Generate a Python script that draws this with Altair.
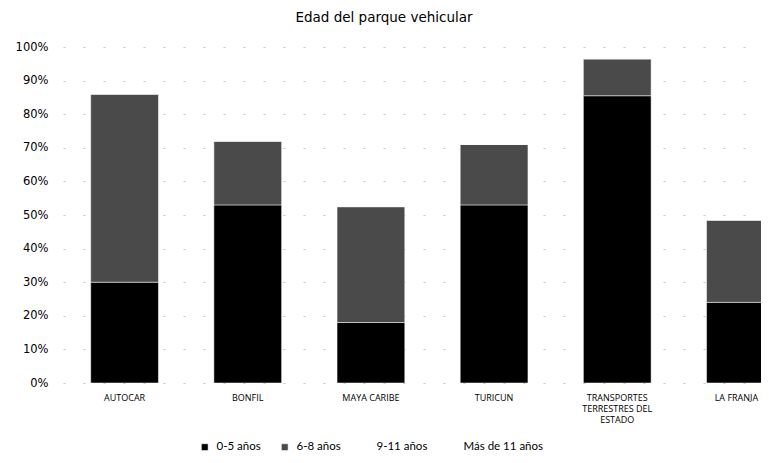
import altair as alt
import pandas as pd

categories = ["AUTOCAR", "BONFIL", "MAYA CARIBE", "TURICUN",
              "TRANSPORTES TERRESTRES DEL ESTADO", "LA FRANJA"]
series = ["0-5 años", "6-8 años", "9-11 años", "Más de 11 años"]
v_0_5 = [30, 53, 18, 53, 85.5, 24]
v_6_8 = [56, 19, 34.5, 18, 11, 24.5]
v_9_11 = [0, 0, 0, 0, 0, 0]
v_11p = [0, 0, 0, 0, 0, 0]
colors = ["#000000", "#4a4a4a", "#ffffff", "#ffffff"]

rows = []
for vals, s_i in zip([v_0_5, v_6_8, v_9_11, v_11p], range(4)):
    for c, v in zip(categories, vals):
        rows.append({"cat": c, "serie": series[s_i], "ord": s_i, "val": v / 100})
df = pd.DataFrame(rows)

label_expr = ("datum.value == 'TRANSPORTES TERRESTRES DEL ESTADO' ? "
              "['TRANSPORTES', 'TERRESTRES DEL', 'ESTADO'] : datum.value")

chart = alt.Chart(df).mark_bar(clip=True).encode(
    x=alt.X("cat:N", sort=categories, title=None,
            scale=alt.Scale(range=[0, 739], paddingInner=0.45, paddingOuter=0.225),
            axis=alt.Axis(labelAngle=0, labelExpr=label_expr, domain=False, ticks=False,
                          labelFont="Open Sans", labelFontSize=9, labelColor="#000",
                          labelPadding=10, labelLineHeight=11, labelBaseline="top",
                          labelLimit=200,
                          labelOffset={"condition": {"test": "datum.value == 'LA FRANJA'",
                                                     "value": -4}, "value": 0})),
    y=alt.Y("val:Q", stack="zero", title=None,
            scale=alt.Scale(domain=[0, 1], nice=False),
            axis=alt.Axis(format=".0%", values=[i / 10 for i in range(11)],
                          domain=False, ticks=False, labelPadding=15,
                          labelFont="DejaVu Sans", labelFontSize=11.5, labelColor="#000",
                          grid=True, gridColor="#c4c4c4", gridDash=[2, 18], gridWidth=1)),
    color=alt.Color("serie:N", sort=series,
                    scale=alt.Scale(domain=series, range=colors),
                    legend=alt.Legend(title=None, orient="none", direction="horizontal",
                                      legendX=136, legendY=394, symbolType="square",
                                      symbolSize=45, symbolStrokeWidth=0,
                                      labelFont="Lato", labelFontSize=11.5, labelColor="#000",
                                      columnPadding=18, labelOffset=6)),
    order=alt.Order("ord:Q"),
).properties(
    width=698, height=336,
    title=alt.TitleParams("Edad del parque vehicular", font="DejaVu Sans", fontSize=13.5,
                          fontWeight="normal", color="#000", anchor="middle", dx=-28,
                          offset=17),
    padding={"left": 55, "top": 39, "right": 0, "bottom": 69},
    autosize=alt.AutoSizeParams(type="none"),
).configure_view(stroke=None).configure_bar(stroke="#ffffff", strokeWidth=0.5)

chart.save("out.html", embed_options={"renderer": "svg", "actions": False})
